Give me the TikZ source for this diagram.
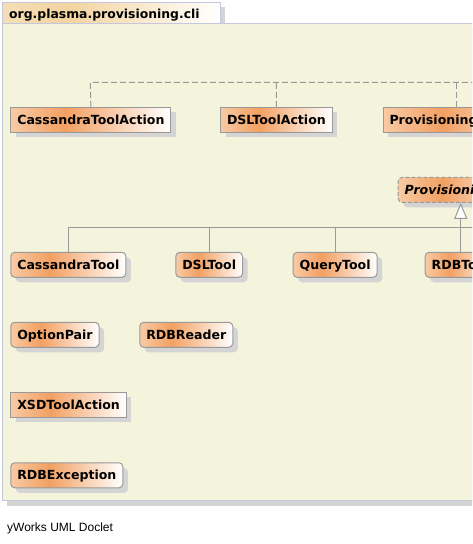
\documentclass[tikz,border=0pt]{standalone}
\usepackage{fontspec}
\usetikzlibrary{arrows.meta,shadows}
\newfontfamily\djv{DejaVu Sans}
\newfontfamily\lib{Liberation Sans}
\definecolor{nodeL}{RGB}{248,202,164}
\definecolor{nodeM}{RGB}{242,160,98}
\definecolor{tabL}{RGB}{245,222,182}
\definecolor{tabM}{RGB}{243,212,160}
\definecolor{bodyc}{RGB}{244,244,221}
\definecolor{pkgb}{RGB}{196,200,222}
\definecolor{bordc}{RGB}{153,153,153}
\definecolor{shadowc}{RGB}{212,212,212}
\definecolor{linec}{RGB}{153,153,153}
\pgfdeclarehorizontalshading{umlnode}{100bp}{color(0bp)=(nodeL); color(25bp)=(nodeL); color(42bp)=(nodeM); color(75bp)=(white); color(100bp)=(white)}
\pgfdeclarehorizontalshading{umltab}{100bp}{color(0bp)=(tabL); color(25bp)=(tabL); color(40bp)=(tabM); color(75bp)=(white); color(100bp)=(white)}
\tikzset{
  umlbase/.style={anchor=west, font=\djv\bfseries\fontsize{12.55}{14}\selectfont,
    text height=9.1pt, text depth=0pt, minimum height=25pt, inner xsep=6.5pt,
    draw=bordc, line width=1pt, shading=umlnode,
    drop shadow={shadow xshift=5pt, shadow yshift=-5pt, fill=shadowc, opacity=1}},
  umlclass/.style={umlbase, rounded corners=4pt},
  umlenum/.style={umlbase},
  umlabstract/.style={umlbase, rounded corners=4pt, dash pattern=on 4pt off 2pt,
    font=\djv\bfseries\itshape\fontsize{12.55}{14}\selectfont},
  depline/.style={draw=linec, line width=1pt, dash pattern=on 6pt off 3pt},
  genline/.style={draw=linec, line width=1pt},
  genarrow/.style={genline, -{Triangle[length=16pt, width=13pt, fill=white, line width=1pt]}},
}
\begin{document}
\begin{tikzpicture}[x=1pt, y=-1pt]
\useasboundingbox (0,0) rectangle (472,544);
\clip (0,0) rectangle (472,544);
% package
\fill[shadowc] (7.3,28) rectangle (485,505.7);
\fill[shadowc] (7.3,7.3) rectangle (225.3,23);
\path[fill=bodyc, draw=pkgb, line width=1pt] (2.3,23.3) rectangle (485,500.7);
\path[shading=umltab, draw=pkgb, line width=1pt] (2.3,2.3) rectangle (220.3,23.3);
\node[anchor=base west, inner sep=0pt, font=\djv\bfseries\fontsize{12.4}{14}\selectfont] (title) at (9,18.2) {org.plasma.provisioning.cli};
% row 1: enums
\node[umlenum] (cta) at (10.3,119.8) {CassandraToolAction};
\node[umlenum] (dta) at (220,119.8) {DSLToolAction};
\node[umlenum] (pta) at (382.5,119.8) {ProvisioningToolAction};
% abstract
\node[umlabstract] (prov) at (397.7,189.8) {ProvisioningTool};
% row 2
\node[umlclass] (ct) at (10.3,264.8) {CassandraTool};
\node[umlclass] (dt) at (175.3,264.8) {DSLTool};
\node[umlclass] (qt) at (292.7,264.8) {QueryTool};
\node[umlclass] (rt) at (424.7,264.8) {RDBTool};
% row 3
\node[umlclass] (op) at (10.3,334.8) {OptionPair};
\node[umlclass] (rr) at (139.3,334.8) {RDBReader};
% row 4
\node[umlenum] (xta) at (10.3,404.8) {XSDToolAction};
\node[umlclass] (rex) at (10.3,475.3) {RDBException};
% dependency (dashed) connectors
\coordinate (d1) at (90.3,82.3);
\coordinate (d2) at (276.4,82.3);
\coordinate (d3) at (456.3,82.3);
\coordinate (dend) at (490,82.3);
\draw[depline] (cta.north) -- (d1) -- (dend);
\draw[depline] (dta.north) -- (d2);
\draw[depline] (pta.north -| d3) -- (d3);
% generalization connectors
\coordinate (g1) at (ct.north |- 0,227.3);
\coordinate (gend) at (490,227.3);
\draw[genline] (ct.north) -- (g1) -- (gend);
\draw[genline] (dt.north) -- (dt.north |- g1);
\draw[genline] (qt.north) -- (qt.north |- g1);
\draw[genarrow] (rt.north) -- (rt.north |- prov.south);
% footer
\node[anchor=base west, inner sep=0pt, font=\lib\fontsize{12}{14}\selectfont] (footer) at (7,531.7) {yWorks UML Doclet};
\end{tikzpicture}
\end{document}
